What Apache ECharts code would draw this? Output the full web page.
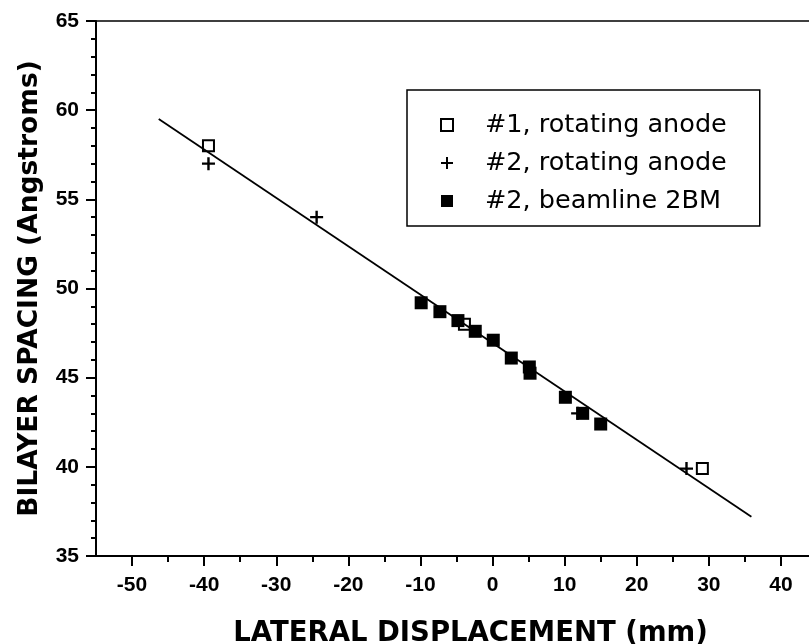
<!DOCTYPE html>
<html>
<head>
<meta charset="utf-8">
<script src="https://cdn.jsdelivr.net/npm/echarts@6/dist/echarts.min.js"></script>
<style>
  html, body { margin: 0; padding: 0; background: #fff; }
  #chart { width: 809px; height: 644px; }
</style>
</head>
<body>
<div id="chart"></div>
<script>
// fitted line end points
const fitX = [-46.3, 35.9];
const fitY = [59.5, 37.2];
// #1, rotating anode (open squares)
const anode1X = [-39.4, -3.9, 29.1];
const anode1Y = [58.0, 48.0, 39.9];
// #2, rotating anode (crosses)
const anode2X = [-39.4, -24.4, 11.8, 26.9];
const anode2Y = [57.0, 54.0, 43.0, 39.9];
// #2, beamline 2BM (filled squares)
const beamX = [-9.9, -7.3, -4.8, -2.4, 0.1, 2.6, 5.1, 5.2, 10.1, 12.5, 15.0];
const beamY = [49.2, 48.7, 48.2, 47.6, 47.1, 46.1, 45.6, 45.25, 43.9, 43.0, 42.4];
// tick values
const xMajor = [-50, -40, -30, -20, -10, 0, 10, 20, 30, 40];
const xMinor = [-45, -35, -25, -15, -5, 5, 15, 25, 35];
const seriesNames = ['#1, rotating anode', '#2, rotating anode', '#2, beamline 2BM'];

const pairs = (xs, ys) => xs.map((x, i) => [x, ys[i]]);

const tickFont = { fontFamily: 'Liberation Sans', fontWeight: 'bold', fontSize: 21, color: '#000' };

const chart = echarts.init(document.getElementById('chart'));
chart.setOption({
  animation: false,
  backgroundColor: '#fff',
  grid: {
    left: 96, right: -8, top: 21, bottom: 88,
    containLabel: false, outerBoundsMode: 'none',
    show: true, borderColor: '#000', borderWidth: 1.5
  },
  legend: {
    data: seriesNames,
    orient: 'vertical',
    left: 407, top: 90,
    padding: [22, 33, 12, 33],
    borderColor: '#000', borderWidth: 1.5,
    itemWidth: 12, itemHeight: 12, itemGap: 12,
    formatter: name => '{t|' + name + '}',
    textStyle: {
      rich: {
        t: {
          fontFamily: 'DejaVu Sans', fontSize: 25.5, color: '#000',
          lineHeight: 26, padding: [0, 0, 0, 27]
        }
      }
    }
  },
  xAxis: [
    {
      type: 'value', min: -55, max: 45,
      name: 'LATERAL DISPLACEMENT (mm)', nameLocation: 'middle', nameGap: 64,
      nameTextStyle: { fontFamily: 'DejaVu Sans', fontWeight: 'bold', fontSize: 27.5, color: '#000', padding: [0, 0, 0, 28] },
      splitLine: { show: false },
      axisLine: { onZero: false, lineStyle: { color: '#000', width: 2 } },
      axisTick: { customValues: xMajor, length: 10, lineStyle: { color: '#000', width: 2 } },
      axisLabel: Object.assign({ customValues: xMajor, margin: 19 }, tickFont)
    },
    {
      type: 'value', min: -55, max: 45, position: 'bottom',
      splitLine: { show: false },
      axisLine: { show: false, onZero: false },
      axisTick: { customValues: xMinor, length: 6, lineStyle: { color: '#000', width: 2 } },
      axisLabel: { show: false }
    }
  ],
  yAxis: {
    type: 'value', min: 35, max: 65, interval: 5,
    name: 'BILAYER SPACING (Angstroms)', nameLocation: 'middle', nameGap: 52,
    nameTextStyle: { fontFamily: 'DejaVu Sans', fontWeight: 'bold', fontSize: 26.5, color: '#000' },
    splitLine: { show: false },
    axisLine: { show: true, onZero: false, lineStyle: { color: '#000', width: 2 } },
    axisTick: { length: 10, lineStyle: { color: '#000', width: 2 } },
    minorTick: { show: true, splitNumber: 5, length: 5, lineStyle: { color: '#000', width: 2 } },
    axisLabel: Object.assign({ margin: 17 }, tickFont)
  },
  series: [
    {
      name: 'fit', type: 'line', data: pairs(fitX, fitY),
      symbol: 'none', silent: true,
      lineStyle: { color: '#000', width: 1.8 }
    },
    {
      name: seriesNames[0], type: 'scatter', data: pairs(anode1X, anode1Y),
      symbol: 'rect', symbolSize: 11,
      itemStyle: { color: '#fff', borderColor: '#000', borderWidth: 2, opacity: 1 }
    },
    {
      name: seriesNames[1], type: 'scatter', data: pairs(anode2X, anode2Y),
      symbol: 'path://M0,6H12M6,0V12', symbolSize: 13,
      itemStyle: { color: 'rgba(0,0,0,0)', borderColor: '#000', borderWidth: 2.4, opacity: 1 }
    },
    {
      name: seriesNames[2], type: 'scatter', data: pairs(beamX, beamY),
      symbol: 'rect', symbolSize: 13,
      itemStyle: { color: '#000', opacity: 1 }
    }
  ]
});
</script>
</body>
</html>
